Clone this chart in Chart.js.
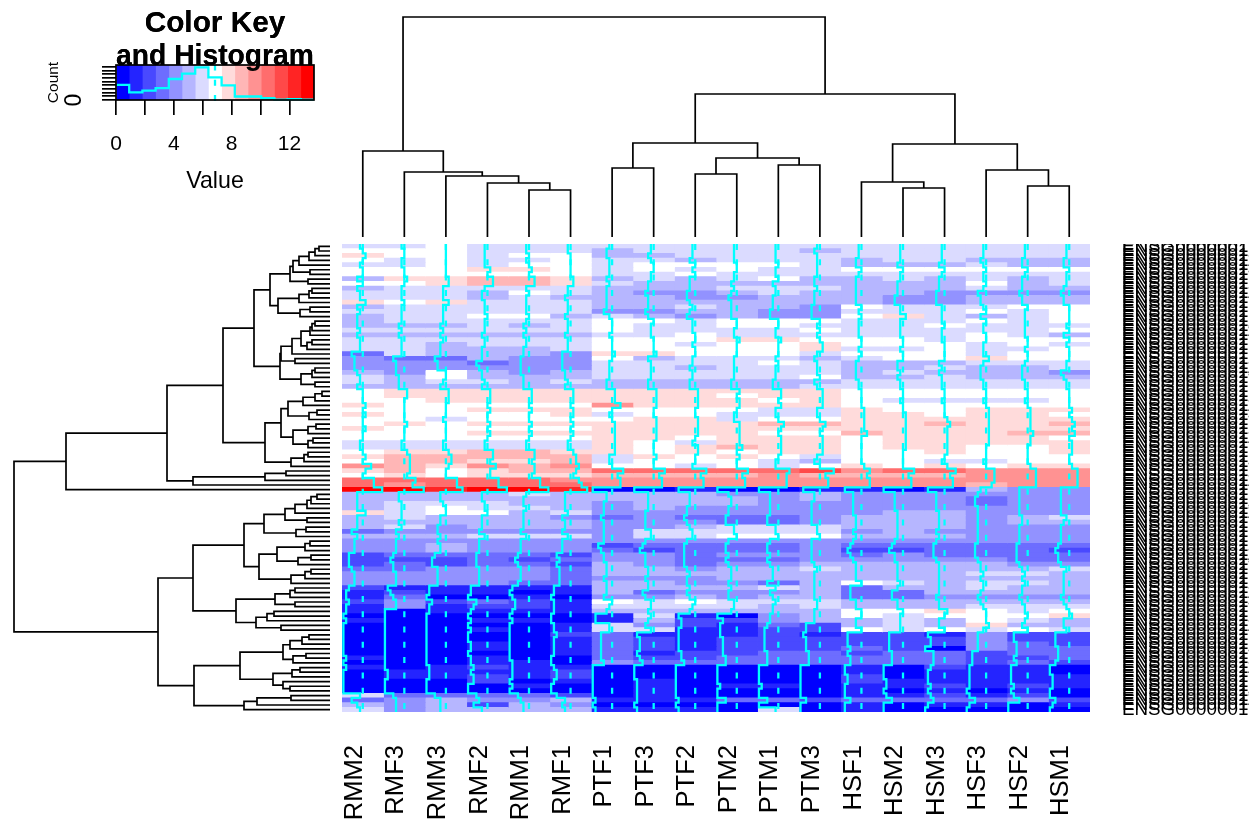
<!DOCTYPE html>
<html><head><meta charset="utf-8">
<script src="https://cdn.jsdelivr.net/npm/chart.js@4"></script>
<style>html,body{margin:0;padding:0;background:#fff;overflow:hidden;width:1249px;height:825px}canvas{position:absolute;display:block}</style>
</head><body>
<canvas id="key" width="340" height="240" style="left:0;top:0"></canvas>
<canvas id="top" width="748" height="244" style="left:342px;top:0"></canvas>
<canvas id="side" width="340" height="468" style="left:0;top:244px"></canvas>
<canvas id="heat" width="907" height="581" style="left:342px;top:244px"></canvas>
<script>
const FONT = "'Liberation Sans', Arial, Helvetica, sans-serif";
const columnLabels = ['RMM2','RMF3','RMM3','RMF2','RMM1','RMF1','PTF1','PTF3','PTF2','PTM2','PTM1','PTM3','HSF1','HSM2','HSM3','HSF3','HSF2','HSM1'];
const palette = ['#0000FF','#2424FF','#4949FF','#6D6DFF','#9292FF','#B6B6FF','#DBDBFF','#FFFFFF','#FFDBDB','#FFB6B6','#FF9292','#FF6D6D','#FF4949','#FF2424','#FF0000'];
const maxValue = 13.7;
const centerValue = 6.85;
const histCounts = [164,84,103,130,229,287,355,248,160,38,38,19,4,8,4];
const geneSuffixes = ('12048 13504 19186 11052 10327 14257 12983 16402 17215 10945 '+
 '11368 15720 18034 12671 10589 13946 16218 14783 11427 19650 '+
 '12390 17861 10274 15139 13072 16845 11796 14528 18307 12914 '+
 '10663 15482 13257 17094 11930 16371 14016 12748 19523 10836 '+
 '15267 11604 13889 17432 12155 16790 14361 10098 18672 13325 '+
 '11549 15903 12817 10742 16136 14695 19278 11283 13460 17556 '+
 '12026 15314 10917 18145 13738 16623 11175 14842 12569 19037 '+
 '10451 15876 13193 17319 11712 16054 14407 12236 18961 10380 '+
 '15645 11891 13574 17783 12482 16967 14129 10716 19402 13016 '+
 '11338 15251 12605 10163 16584 14970 18426 11467 13651 12094').split(' ');
const geneLabels = geneSuffixes.map(s => 'ENSG000000' + s);
const heatRows = [
'667666666666666666','777666566665666666','877677556666666666','767667665666566555','667677677776555655',
'777887676766777777','777777667666666666','588998565675565656','778998655555555756','566666555666555655',
'666576544565554444','666565554455544555','878666555555544555','566666556554766677','666666445544666767',
'566775654544786567','566666776777666767','555656766776667666','666666766667666667','555555667666666765',
'666666777887776777','665666776778777676','665556777778667667','365554887776777677','433544756665677877',
'444344666676555666','444444665666556556','547545666666565554','657555666667556555','656656555555666666',
'555555555556666666','788888888888777777','788888888788777777','778888888878766667','877777a88888777777',
'777888777766877888','877778677666887887','776777788677888888','787888888899889889','877777888888888888',
'777888888877988899','777777887888788887','666666876888788888','666666878988788778','788998878788778778',
'899999687876777777','799889677765776677','a98a9a776767878788','897899bbbbbcabbaaa','7878889999a9999aaa',
'bbbbbaaaaaaaaaaaaa','babbbbaaaaaaaaa9aa','eedeed001001101544','555565555445444444','555555555545444344',
'566655455544444344','567665454444444444','867756444444455444','565554343334555456','555555444334555455',
'564555445666555444','344444466666454444','555666466777555444','444444444444444444','445444233334333333',
'445444323334223332','233332443444343333','222323443334444433','232332543445555544','334443554556555556',
'444443555555555665','444443444555555555','444433554435765665','211111555565355655','121101534445335555',
'130010445455334444','242321767666555555','141221666656555666','101111555555778767','000000161045767778',
'100110152245565765','000001642132565855','000101661122767676','000002311121221422','000001321222222422',
'000101321222222432','000101321222320433','000001312233233233','100100322333333223','000110433333333232',
'101211000000102110','011112000000101110','011212000000201111','000201010000211111','000010010110112121',
'000000010000101010','633332010000112120','345445111332333342','545254000000101101','645555111060100000'
];
const L = 0;
const columnTree = [220,[86,L,[65,L,[61,L,[54,L,[47,L,L]]]]],[143,[94,[69,L,L],[79,[63,L,L],[72,L,L]]],[93,[55,L,[49,L,L]],[67,L,[51,L,L]]]]];
const rowsTreeA = [60,[40,[37,[31,[21,[15,[11,L,L],L],L],L],[20,L,L]],[22,L,L]],[52,[31,[21,[18,L,L],L],L],[30,[20,L,L],L]]];
const rowsTreeC = [50,[49,[38,[29,[20,[18,[15,L,L],L],L],[23,[18,L,L],L]],L],[35,L,L]],[29,[18,[15,L,L],L],[15,L,L]]];
const rowsTreeD = [65,[49,[42,[27,[15,[8,L,L],L],L],[21,[13,L,L],L]],[37,[22,[14,L,L],L],[22,[17,L,L],L]]],[39,[26,[22,L,L],L],L]];
const rowsTreeUpper = [264,[163,[107,[76,rowsTreeA,rowsTreeC],rowsTreeD],[137,[65,[44,L,L],L],L]],L];
const rowsTreeE = [86,[66,[45,[35,[23,[19,[13,L,L],L],L],L],[23,L,L]],[34,[24,L,L],L]],[71,[53,[25,[20,L,L],L],[32,[19,L,L],L]],[39,[25,[19,L,L],L],L]]];
const rowsTreeF = [94,[55,[40,[35,L,L],L],[35,L,L]],[74,[63,[56,L,L],L],[49,L,L]]];
const rowsTreeG = [90,[47,[40,[28,[21,L,L],L],L],[37,[24,L,L],L]],[57,[38,[30,L,L],L],[47,L,[40,L,L]]]];
const rowsTreeH = [86,[73,[39,L,L],L],L];
const rowsTree = [316,rowsTreeUpper,[172,[137,rowsTreeE,rowsTreeF],[136,rowsTreeG,rowsTreeH]]];

const binWidth = maxValue / palette.length;
const heatValues = heatRows.map(r => [...r].map(c => (parseInt(c,15)+0.5)*binWidth));
const colorOf = v => palette[Math.min(palette.length-1, Math.floor(v/binWidth))];
const LW = 1.7;
const TRACE_W = 2.3;
Chart.defaults.font.family = FONT;
Chart.defaults.color = '#000';
Chart.defaults.animation = false;

function treeSegments(tree, horizontal){
  const out = []; let leaf = 0;
  (function walk(n){
    if(!Array.isArray(n)){ const p = leaf + 0.5; leaf++; return {pos:p, h:0}; }
    const a = walk(n[1]), b = walk(n[2]);
    const pts = [[a.pos,a.h],[a.pos,n[0]],[b.pos,n[0]],[b.pos,b.h]];
    out.push(pts.map(([p,h]) => horizontal ? {x:p,y:h} : {x:h,y:p}));
    return {pos:(a.pos+b.pos)/2, h:n[0]};
  })(tree);
  return out.map(data => ({type:'line',data,borderColor:'#000',borderWidth:LW,pointRadius:0,tension:0,fill:false,borderJoinStyle:'miter',borderCapStyle:'butt'}));
}
const noPlugins = {legend:{display:false},tooltip:{enabled:false},title:{display:false}};
const zeroPad = s => { s.paddingLeft=0; s.paddingRight=0; s.paddingTop=0; s.paddingBottom=0; };

new Chart(document.getElementById('top'),{type:'line',data:{datasets:treeSegments(columnTree,true)},options:{
  responsive:false,maintainAspectRatio:false,layout:{padding:{bottom:7}},plugins:noPlugins,
  scales:{x:{type:'linear',display:false,min:0,max:columnLabels.length},y:{type:'linear',display:false,min:0,max:237}}
}});
new Chart(document.getElementById('side'),{type:'line',data:{datasets:treeSegments(rowsTree,false)},options:{
  responsive:false,maintainAspectRatio:false,layout:{padding:{right:10}},plugins:noPlugins,
  scales:{x:{type:'linear',display:false,min:0,max:330,reverse:true},y:{type:'linear',display:false,min:0,max:heatRows.length,reverse:true}}
}});

const heatDatasets = columnLabels.map((name,c)=>({
  type:'bar',label:name,indexAxis:'y',xAxisID:'x',yAxisID:'y',order:3,grouped:false,
  categoryPercentage:1,barPercentage:1,borderWidth:0,inflateAmount:0.4,
  data:heatRows.map(()=>[c,c+1]),backgroundColor:heatValues.map(r=>colorOf(r[c]))
}));
const traceDatasets = columnLabels.map((name,c)=>{
  const data=[]; heatValues.forEach((r,i)=>{const x=c+r[c]/maxValue; data.push({x,y:i},{x,y:i+1});});
  return {type:'line',label:name+' trace',xAxisID:'x',yAxisID:'yr',order:1,data,borderColor:'#00FFFF',borderWidth:TRACE_W,pointRadius:0,tension:0,fill:false};
});
const centerDatasets = columnLabels.map((name,c)=>({
  type:'line',label:name+' center',xAxisID:'x',yAxisID:'yr',order:1,
  data:[{x:c+centerValue/maxValue,y:0},{x:c+centerValue/maxValue,y:heatRows.length}],
  borderColor:'#00FFFF',borderWidth:TRACE_W,borderDash:[6,9.3],pointRadius:0,fill:false
}));
new Chart(document.getElementById('heat'),{type:'bar',data:{labels:geneLabels,datasets:[...heatDatasets,...traceDatasets,...centerDatasets]},options:{
  responsive:false,maintainAspectRatio:false,plugins:noPlugins,
  scales:{
    x:{type:'linear',position:'bottom',min:0,max:columnLabels.length,offset:false,grid:{display:false,drawTicks:false,offset:false},border:{display:false},
       afterBuildTicks:s=>{s.ticks=columnLabels.map((_,i)=>({value:i+0.5}));},
       afterFit:s=>{s.height=113;zeroPad(s);},
       ticks:{callback:(v,i)=>columnLabels[i],autoSkip:false,minRotation:90,maxRotation:90,padding:33,labelOffset:-8,font:{size:25.6},color:'#000'}},
    y:{type:'category',position:'right',offset:true,grid:{display:false,drawTicks:false},border:{display:false},
       afterFit:s=>{s.width=159;zeroPad(s);},
       ticks:{autoSkip:false,padding:32,font:{size:18.8},color:'#000'}},
    yr:{type:'linear',display:false,min:0,max:heatRows.length,reverse:true}
  }
}});

const keyBars = palette.map((col,i)=>({type:'bar',label:'bin '+i,indexAxis:'y',xAxisID:'x',yAxisID:'k',order:3,grouped:false,
  categoryPercentage:1,barPercentage:1,borderWidth:0,data:[[i*binWidth,(i+1)*binWidth]],backgroundColor:col}));
const histPoints=[]; histCounts.forEach((n,i)=>{histPoints.push({x:i*binWidth,y:n},{x:(i+1)*binWidth,y:n});});
const keyLines=[
 {type:'line',label:'Histogram',xAxisID:'x',yAxisID:'y',order:1,data:histPoints,borderColor:'#00FFFF',borderWidth:TRACE_W,pointRadius:0,tension:0,fill:false,clip:false},
 {type:'line',label:'Center',xAxisID:'x',yAxisID:'y',order:1,data:[{x:centerValue,y:-12},{x:centerValue,y:382}],borderColor:'#00FFFF',borderWidth:TRACE_W,borderDash:[6,9.3],pointRadius:0,fill:false,clip:false}
];
const frame={id:'frame',afterDatasetsDraw(c){
  const a=c.chartArea,g=c.ctx; g.save(); g.strokeStyle='#000'; g.lineWidth=LW; g.strokeRect(a.left,a.top,a.right-a.left,a.bottom-a.top); g.restore();
  c.titleBlock.draw();
}};
new Chart(document.getElementById('key'),{type:'bar',data:{labels:['key'],datasets:[...keyBars,...keyLines]},plugins:[frame],options:{
  responsive:false,maintainAspectRatio:false,layout:{padding:{right:26}},
  plugins:{legend:{display:false},tooltip:{enabled:false},
    title:{display:true,fullSize:false,text:['Color Key','and Histogram'],font:{size:29.8,weight:'bold',lineHeight:33/29.8},color:'#000',padding:{top:7.5,bottom:-8.5}}},
  scales:{
    x:{type:'linear',position:'bottom',min:0,max:maxValue,offset:false,grid:{offset:false,drawOnChartArea:false,drawTicks:true,tickLength:15,tickColor:'#000',tickWidth:LW,color:'#000',lineWidth:LW},border:{display:false},
       afterFit:s=>{s.height=140;zeroPad(s);},
       ticks:{stepSize:2,includeBounds:false,autoSkip:false,maxRotation:0,minRotation:0,padding:17,font:{size:21},color:'#000',callback:v=>v%4===0?String(v):''},
       title:{display:true,text:'Value',font:{size:23.2},color:'#000',padding:{top:0,bottom:44}}},
    y:{type:'linear',position:'left',min:0,max:382,grid:{drawOnChartArea:false,drawTicks:true,tickLength:14,tickColor:'#000',tickWidth:LW,color:'#000',lineWidth:LW},border:{display:false},
       afterFit:s=>{s.width=116;zeroPad(s);},
       ticks:{stepSize:40,includeBounds:false,autoSkip:false,minRotation:90,maxRotation:90,crossAlign:'center',padding:21,font:{size:23},color:'#000',callback:v=>v===0?'0':''},
       title:{display:true,text:'Count',font:{size:15.5},color:'#000',padding:{top:44,bottom:0}}},
    k:{type:'category',display:false,labels:['key'],offset:true}
  }
}});
</script>
</body></html>
